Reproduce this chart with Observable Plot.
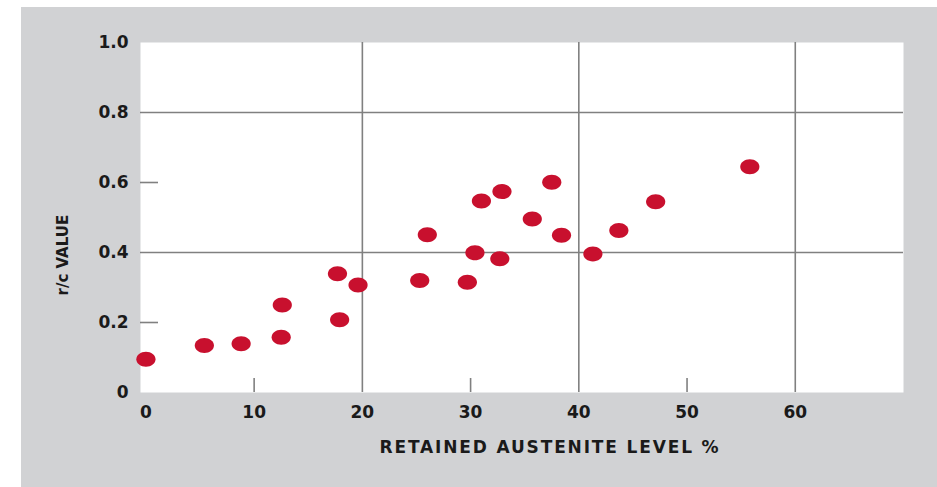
<!DOCTYPE html>
<html>
<head>
<meta charset="utf-8">
<script src="https://cdn.jsdelivr.net/npm/d3@7"></script>
<script src="https://cdn.jsdelivr.net/npm/@observablehq/plot@0.6"></script>
<style>
  html, body { margin: 0; padding: 0; background: #ffffff; }
  #chart { position: absolute; left: 21px; top: 7px; }
  #chart svg { display: block; }
</style>
</head>
<body>
<div id="chart"></div>
<script>
// Data
const austenite = [0, 5.4, 8.8, 12.5, 12.6, 17.7, 17.9, 19.6, 25.3, 26.0, 29.7, 30.4, 31.0, 32.7, 32.9, 35.7, 37.5, 38.4, 41.3, 43.7, 47.1, 55.8];
const rcValue   = [0.095, 0.134, 0.139, 0.158, 0.25, 0.339, 0.208, 0.307, 0.32, 0.451, 0.315, 0.399, 0.547, 0.382, 0.574, 0.496, 0.601, 0.449, 0.396, 0.463, 0.545, 0.645];
const xTicks = [0, 10, 20, 30, 40, 50, 60];
const yTicks = [0, 0.2, 0.4, 0.6, 0.8, 1.0];
const xGrid = [20, 40, 60];
const xShortTicks = [10, 30, 50];
const yGrid = [0.4, 0.8];
const yShortTicks = [0.2, 0.6];
const xTitle = "RETAINED AUSTENITE LEVEL %";
const yTitle = "r/c VALUE";

const points = austenite.map((x, i) => ({x, y: rcValue[i]}));

const ellipse = {
  draw(context, size) {
    const rx = Math.sqrt(size / Math.PI) * 1.2;
    const ry = rx * 0.78;
    const k = 0.5523;
    context.moveTo(rx, 0);
    context.bezierCurveTo(rx, ry * k, rx * k, ry, 0, ry);
    context.bezierCurveTo(-rx * k, ry, -rx, ry * k, -rx, 0);
    context.bezierCurveTo(-rx, -ry * k, -rx * k, -ry, 0, -ry);
    context.bezierCurveTo(rx * k, -ry, rx, -ry * k, rx, 0);
    context.closePath();
  }
};

const gridColor = "#808080";
const textColor = "#1a1a1a";
const font = "DejaVu Sans, sans-serif";

const chart = Plot.plot({
  width: 916,
  height: 480,
  marginLeft: 119,
  marginTop: 35,
  marginRight: 34,
  marginBottom: 95,
  style: {background: "#d1d2d4", fontFamily: font, color: textColor, overflow: "visible"},
  x: {domain: [-0.5, 70], label: null},
  y: {domain: [0, 1.0], label: null},
  marks: [
    Plot.frame({fill: "white", stroke: "none"}),
    Plot.ruleX(xGrid, {stroke: gridColor, strokeWidth: 1.6}),
    Plot.ruleY(yGrid, {stroke: gridColor, strokeWidth: 1.6}),
    Plot.ruleX(xShortTicks, {y1: 0, y2: 0, insetTop: -14, stroke: gridColor, strokeWidth: 1.6}),
    Plot.ruleY(yShortTicks, {x1: -0.5, x2: -0.5, insetRight: -18, stroke: gridColor, strokeWidth: 1.6}),
    Plot.dot(points, {x: "x", y: "y", r: 8, symbol: ellipse, fill: "#c8102e", stroke: "none"}),
    Plot.axisX(xTicks, {tickSize: 0, tickPadding: 13, fontSize: 17, fontWeight: "bold", fill: textColor, label: null}),
    Plot.axisY(yTicks, {tickSize: 0, tickPadding: 12, fontSize: 17, fontWeight: "bold", fill: textColor, label: null,
      tickFormat: d => d === 0 ? "0" : d.toFixed(1)}),
    Plot.text([xTitle], {frameAnchor: "bottom", dx: 28, dy: 60, fontSize: 17, fontWeight: "bold", fill: textColor}),
    Plot.text([yTitle], {frameAnchor: "left", dx: -77, dy: 78, rotate: -90, fontSize: 15, fontWeight: "bold", fill: textColor})
  ]
});
chart.querySelectorAll("text").forEach(t => {
  if (t.textContent === xTitle) t.setAttribute("letter-spacing", "1.85");
});
document.getElementById("chart").appendChild(chart);
</script>
</body>
</html>
